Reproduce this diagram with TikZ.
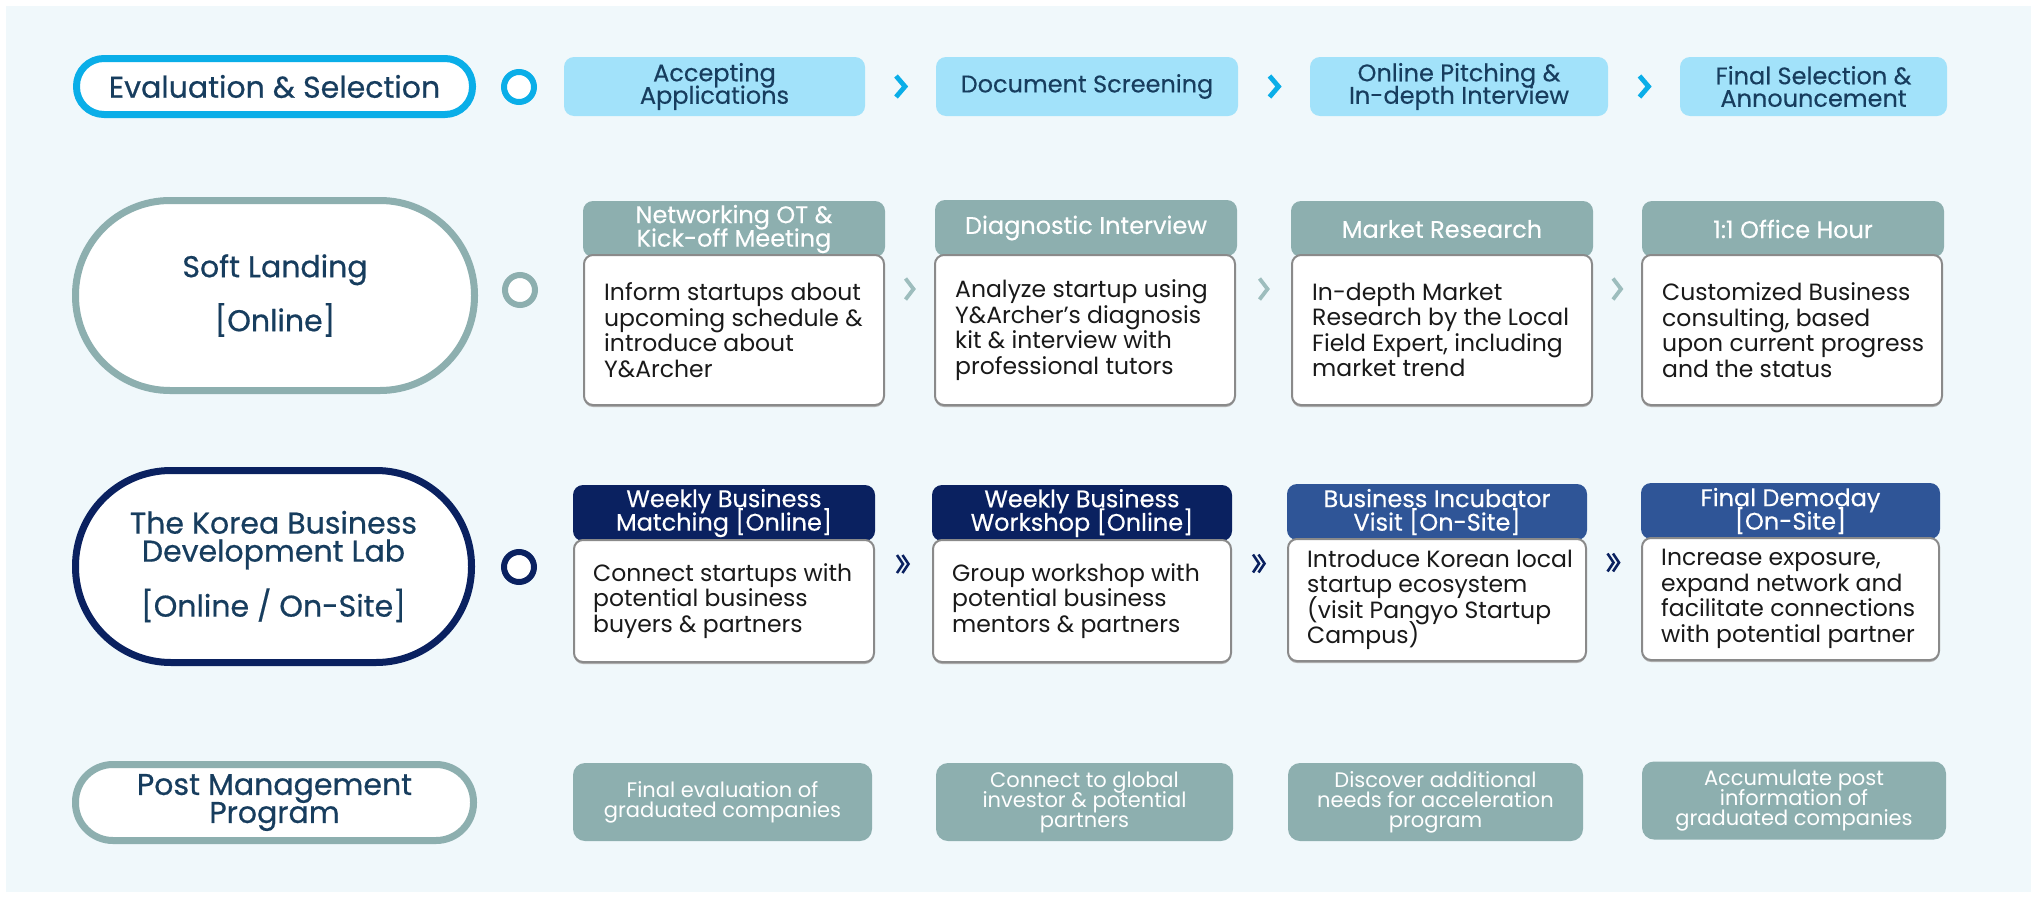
\documentclass[tikz,border=0pt]{standalone}
\usepackage{fontspec}
\setmainfont{Poppins}
\newfontfamily\medfont{Poppins}[FakeBold=0.6]
\newfontfamily\semifont{Poppins}[FakeBold=0.3]
\usetikzlibrary{calc}
\definecolor{bgc}{HTML}{F0F8FB}
\definecolor{cyanline}{HTML}{0AAEE8}
\definecolor{cyanbox}{HTML}{A2E2FA}
\definecolor{sage}{HTML}{8DAFAF}
\definecolor{sagechev}{HTML}{9DBDBD}
\definecolor{navy}{HTML}{0A2160}
\definecolor{midblue}{HTML}{2F5597}
\definecolor{titletext}{HTML}{173D5E}
\definecolor{boxline}{HTML}{8A8A8A}
\tikzset{
  pill/.style={draw, line width=7pt, fill=white, rectangle, inner sep=0pt,
    font=\medfont\fontsize{30}{28}\selectfont, text=titletext, align=center},
  ring/.style={circle, draw, line width=6pt, fill=white, minimum size=30pt, inner sep=0pt},
  stepbox/.style={rectangle, fill=cyanbox, rounded corners=10pt, inner sep=0pt,
    minimum height=59pt, font=\semifont\fontsize{24}{22.5}\selectfont, text=titletext, align=center},
  headbox/.style={rectangle, rounded corners=10pt, inner sep=0pt, minimum height=56pt,
    text=white, font=\semifont\fontsize{24}{23.5}\selectfont, align=center},
  bodybox/.style={rectangle, draw=boxline, line width=2pt, fill=white, rounded corners=9pt,
    inner sep=0pt, preaction={fill=black!30, transform canvas={yshift=-2pt}}},
  bodytext/.style={anchor=west, align=left, inner sep=0pt,
    font=\fontsize{23.5}{25.5}\selectfont, text=black!90},
  postbox/.style={rectangle, fill=sage, rounded corners=12pt, inner sep=0pt, minimum height=78pt,
    text=white, font=\fontsize{21}{20}\selectfont, align=center},
  chev/.pic={\draw[line width=4.8pt, line cap=butt, miter limit=10, pic actions] (-4.5,-10.5) -- (4.5,0) -- (-4.5,10.5);},
  chevs/.pic={\draw[line width=3.8pt, line cap=butt, miter limit=10, pic actions] (-4,-10.5) -- (4,0) -- (-4,10.5);},
  dchev/.pic={\draw[line width=2.6pt, line cap=butt, miter limit=10, pic actions] (-6.5,-9) -- (-0.5,0) -- (-6.5,9);
              \draw[line width=2.6pt, line cap=butt, miter limit=10, pic actions] (-1,-9) -- (5,0) -- (-1,9);}
}
\begin{document}
\lineskiplimit=-100pt
\begin{tikzpicture}[x=1pt, y=-1pt, every node/.append style={execute at begin node={\lineskiplimit=-100pt}}]
\useasboundingbox (0,0) rectangle (2037,897);
\fill[white] (0,0) rectangle (2037,897);
\fill[bgc] (6,6) rectangle (2031,892);

% ---------- Row 1: Evaluation & Selection ----------
\node[pill, draw=cyanline, minimum width=396pt, minimum height=56pt, rounded corners=27.5pt]
  (pEval) at (274.5,86.5) {Evaluation \& Selection};
\node[ring, draw=cyanline] (c1) at (519,87) {};
\node[stepbox, minimum width=301pt] (a1) at (714.5,86.5) {Accepting\\Applications};
\node[stepbox, minimum width=302pt] (a2) at (1087,86.5) {Document Screening};
\node[stepbox, minimum width=298pt] (a3) at (1459,86.5) {Online Pitching \&\\In-depth Interview};
\node[stepbox, minimum width=267pt] (a4) at (1813.5,86.5) {Final Selection \&\\Announcement};
\path ($(a1.east)!0.5!(a2.west)$) pic[draw=cyanline] {chev};
\path ($(a2.east)!0.5!(a3.west)$) pic[draw=cyanline] {chev};
\path ($(a3.east)!0.5!(a4.west)$) pic[draw=cyanline] {chev};

% ---------- Row 2: Soft Landing ----------
\node[pill, draw=sage, minimum width=399pt, minimum height=190pt, rounded corners=94.5pt]
  (pSoft) at (275,295.5) {Soft Landing\\[26pt]{[Online]}};
\node[ring, draw=sage] (c2) at (520,290) {};
\node[headbox, fill=sage, minimum width=302pt] (h21) at (734,229) {Networking OT \&\\Kick-off Meeting};
\node[headbox, fill=sage, minimum width=302pt] (h22) at (1086,228) {Diagnostic Interview};
\node[headbox, fill=sage, minimum width=302pt] (h23) at (1442,229) {Market Research};
\node[headbox, fill=sage, minimum width=302pt] (h24) at (1793,229) {1:1 Office Hour};
\node[bodybox, minimum width=300pt, minimum height=150pt] (b21) at (734,330) {};
\node[bodybox, minimum width=300pt, minimum height=150pt] (b22) at (1085,330) {};
\node[bodybox, minimum width=300pt, minimum height=150pt] (b23) at (1442,330) {};
\node[bodybox, minimum width=300pt, minimum height=150pt] (b24) at (1792,330) {};
\node[bodytext] (t21) at ([xshift=21pt]b21.west) {Inform startups about\\upcoming schedule \&\\introduce about\\Y\&Archer};
\node[bodytext] (t22) at ([xshift=21pt]b22.west) {Analyze startup using\\Y\&Archer’s diagnosis\\kit \& interview with\\professional tutors};
\node[bodytext] (t23) at ([xshift=21pt]b23.west) {In-depth Market\\Research by the Local\\Field Expert, including\\market trend};
\node[bodytext] (t24) at ([xshift=21pt]b24.west) {Customized Business\\consulting, based\\upon current progress\\and the status};
\path ($(b21.east)!0.5!(b22.west)$) ++(0,-41) pic[draw=sagechev] {chevs};
\path ($(b22.east)!0.5!(b23.west)$) ++(0,-41) pic[draw=sagechev] {chevs};
\path ($(b23.east)!0.5!(b24.west)$) ++(0,-41) pic[draw=sagechev] {chevs};

% ---------- Row 3: The Korea Business Development Lab ----------
\node[pill, draw=navy, minimum width=396pt, minimum height=192pt, rounded corners=95.5pt]
  (pKorea) at (273.5,566.5) {The Korea Business\\Development Lab\\[27pt]{[Online / On-Site]}};
\node[ring, draw=navy] (c3) at (519,567) {};
\node[headbox, fill=navy, minimum width=302pt] (h31) at (724,513) {Weekly Business\\Matching [Online]};
\node[headbox, fill=navy, minimum width=300pt] (h32) at (1082,513) {Weekly Business\\Workshop [Online]};
\node[headbox, fill=midblue, minimum width=300pt] (h33) at (1437,512) {Business Incubator\\Visit [On-Site]};
\node[headbox, fill=midblue, minimum width=299pt] (h34) at (1790.5,511) {Final Demoday\\{[On-Site]}};
\node[bodybox, minimum width=300pt, minimum height=122pt] (b31) at (724,601) {};
\node[bodybox, minimum width=298pt, minimum height=122pt] (b32) at (1082,601) {};
\node[bodybox, minimum width=298pt, minimum height=122pt] (b33) at (1437,600) {};
\node[bodybox, minimum width=297pt, minimum height=122pt] (b34) at (1790.5,599) {};
\node[bodytext] (t31) at ([xshift=20pt]b31.west) {Connect startups with\\potential business\\buyers \& partners};
\node[bodytext] (t32) at ([xshift=20pt]b32.west) {Group workshop with\\potential business\\mentors \& partners};
\node[bodytext] (t33) at ([xshift=20pt]b33.west) {Introduce Korean local\\startup ecosystem\\(visit Pangyo Startup\\Campus)};
\node[bodytext] (t34) at ([xshift=20pt]b34.west) {Increase exposure,\\expand network and\\facilitate connections\\with potential partner};
\path ($(b31.east)!0.5!(b32.west)$) ++(0,-37) pic[draw=navy] {dchev};
\path ($(b32.east)!0.5!(b33.west)$) ++(0,-37) pic[draw=navy] {dchev};
\path ($(b33.east)!0.5!(b34.west)$) ++(0,-37) pic[draw=navy] {dchev};

% ---------- Row 4: Post Management Program ----------
\node[pill, draw=sage, minimum width=398pt, minimum height=76pt, rounded corners=37.5pt]
  (pPost) at (274.5,802.5) {Post Management\\Program};
\node[postbox, minimum width=299pt] (p1) at (722.5,802) {Final evaluation of\\graduated companies};
\node[postbox, minimum width=297pt] (p2) at (1084.5,802) {Connect to global\\investor \& potential\\partners};
\node[postbox, minimum width=295pt] (p3) at (1435.5,802) {Discover additional\\needs for acceleration\\program};
\node[postbox, minimum width=304pt] (p4) at (1794,800.5) {Accumulate post\\information of\\graduated companies};
\end{tikzpicture}
\end{document}
